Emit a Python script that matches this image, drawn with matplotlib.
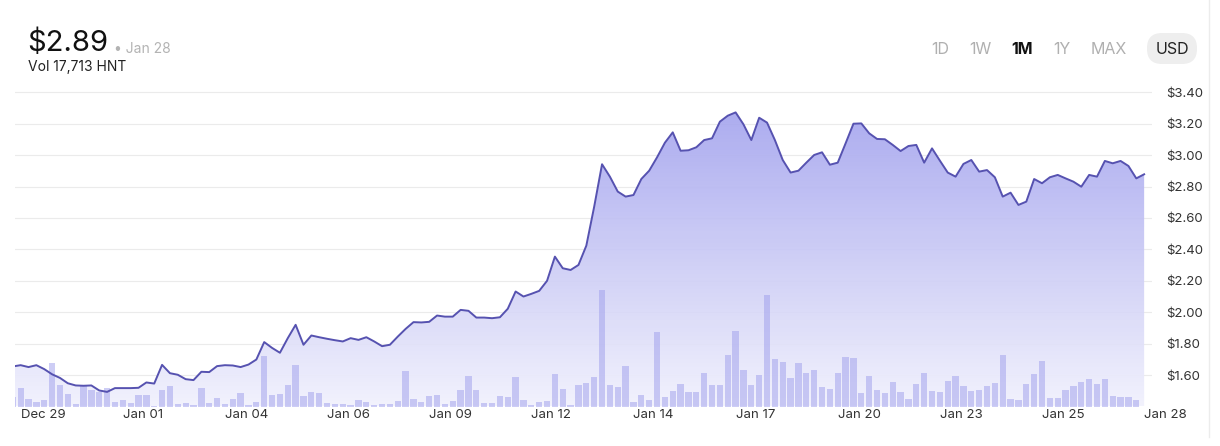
import matplotlib
matplotlib.use('Agg')
import matplotlib.pyplot as plt
import numpy as np
from matplotlib.patches import Polygon, FancyBboxPatch
from matplotlib.lines import Line2D
from matplotlib.colors import LinearSegmentedColormap
from matplotlib.transforms import IdentityTransform

# price (USD), one point per ~5h, Dec 28 -> Jan 28
price = [1.655, 1.663, 1.651, 1.663, 1.638, 1.605, 1.582, 1.548, 1.534, 1.532,
         1.534, 1.502, 1.493, 1.517, 1.517, 1.517, 1.519, 1.553, 1.546, 1.665,
         1.612, 1.602, 1.574, 1.568, 1.621, 1.619, 1.657, 1.663, 1.661, 1.651,
         1.667, 1.699, 1.810, 1.773, 1.742, 1.835, 1.920, 1.793, 1.852, 1.841,
         1.831, 1.822, 1.814, 1.835, 1.824, 1.841, 1.814, 1.784, 1.793, 1.845,
         1.894, 1.937, 1.935, 1.939, 1.979, 1.972, 1.972, 2.015, 2.009, 1.966,
         1.966, 1.962, 1.968, 2.022, 2.132, 2.100, 2.117, 2.136, 2.200, 2.354,
         2.280, 2.269, 2.301, 2.424, 2.672, 2.942, 2.863, 2.768, 2.736, 2.746,
         2.848, 2.901, 2.986, 3.079, 3.145, 3.028, 3.031, 3.050, 3.096, 3.107,
         3.213, 3.251, 3.272, 3.196, 3.096, 3.238, 3.207, 3.096, 2.969, 2.889,
         2.901, 2.952, 3.001, 3.018, 2.939, 2.952, 3.075, 3.200, 3.202, 3.139,
         3.103, 3.101, 3.065, 3.026, 3.058, 3.065, 2.952, 3.043, 2.965, 2.889,
         2.863, 2.944, 2.969, 2.895, 2.905, 2.859, 2.736, 2.761, 2.683, 2.704,
         2.848, 2.821, 2.859, 2.874, 2.852, 2.831, 2.799, 2.874, 2.863, 2.963,
         2.948, 2.963, 2.931, 2.852, 2.878]

# volume (relative units)
volume = [10, 18.3, 7.7, 5, 7, 44, 22, 12.3, 2.3, 22,
          16.7, 15, 18.7, 5, 7, 3.3, 12, 11.3, 1, 16.7,
          20.7, 2.3, 4, 2, 18.7, 3.7, 8.3, 2.7, 7.7, 13.7,
          2, 5, 50.3, 11.7, 13, 21.3, 42, 10.7, 15, 13.7,
          3.3, 2.7, 3, 2, 7, 5, 2, 2.7, 2.7, 5.7,
          36, 8, 4.7, 11, 11.7, 3, 6, 16.7, 30.3, 16.7,
          4, 3.3, 10.7, 10, 29.3, 6.7, 2, 4.7, 5.3, 33,
          18, 1.7, 21.3, 24, 30, 117, 22, 19.3, 40.3, 4.3,
          11.7, 6.7, 75, 10, 15.7, 22.7, 15, 15, 34, 21.3,
          22, 51.7, 75.3, 36.3, 21.7, 31.7, 111.3, 48, 44.3, 29,
          43.7, 33.7, 37, 20, 17.7, 33.7, 50, 48.7, 13.3, 30.7,
          16.7, 13.7, 25, 14.7, 7.7, 23, 33.7, 15.3, 15, 25.3,
          30.3, 21, 16, 17, 21, 23.7, 52, 7.3, 6.7, 22.7,
          32.7, 45.7, 8.3, 8.3, 17, 20.7, 24.3, 28, 22.3, 28,
          10.7, 10, 9.7, 7]

date_labels = ['Dec 29', 'Jan 01', 'Jan 04', 'Jan 06', 'Jan 09', 'Jan 12',
               'Jan 14', 'Jan 17', 'Jan 20', 'Jan 23', 'Jan 25', 'Jan 28']
price_ticks = [1.60, 1.80, 2.00, 2.20, 2.40, 2.60, 2.80, 3.00, 3.20, 3.40]
ranges = ['1D', '1W', '1M', '1Y', 'MAX']

plt.rcParams['font.family'] = ['Inter', 'DejaVu Sans']

W, H = 1220, 446
fig = plt.figure(figsize=(W / 100, H / 100), dpi=100)
ax = fig.add_axes([15 / W, 1 - 406.5 / H, (1152 - 15) / W, (406.5 - 86) / H])

ymin, ymax = 1.40, 3.44
x = np.arange(len(price))

# gradient area under the price line
cmap = LinearSegmentedColormap.from_list('fill', ['#f1f1fd', '#a4a4ee'])
grad = np.linspace(0, 1, 256).reshape(-1, 1)
img = ax.imshow(grad, cmap=cmap, aspect='auto', origin='lower',
                extent=[x[0], x[-1], ymin, 3.30], zorder=1, alpha=0.92)
poly = Polygon(np.column_stack([np.r_[x[0], x, x[-1]], np.r_[ymin, price, ymin]]),
               closed=True, facecolor='none', edgecolor='none')
ax.add_patch(poly)
img.set_clip_path(poly)

# volume bars share the bottom of the price axis
vol_scale = (ymax - ymin) / 320.5
xv = np.arange(len(volume))
ax.bar(xv, np.array(volume) * vol_scale, bottom=ymin, width=0.8,
       color='#9d9dec', alpha=0.5, zorder=2, linewidth=0)

ax.plot(x, price, color='#5652b0', lw=1.4, zorder=3, solid_joinstyle='round')

ax.set_xlim(0.28, 145.0)
ax.set_ylim(ymin, ymax)

ax.set_yticks(price_ticks)
ax.set_yticklabels(['${:.2f}'.format(p) for p in price_ticks])
ax.yaxis.tick_right()
ax.tick_params(axis='y', length=0, pad=10, labelsize=9.5, labelcolor='#333333')

ax.set_xticks(np.arange(1, len(price), 13))
ax.set_xticklabels(date_labels, ha='left')
ax.tick_params(axis='x', length=0, pad=2, labelsize=9.5, labelcolor='#333333')

ax.grid(axis='y', color='#ebebeb', lw=0.8)
ax.set_axisbelow(True)
for s in ax.spines.values():
    s.set_visible(False)

# header
fig.text(27 / W, 1 - 51 / H, '$2.89', fontsize=21, color='#111111', va='baseline')
fig.text(114 / W, 1 - 53 / H, '• Jan 28', fontsize=10, color='#b3b3b3', va='baseline')
fig.text(28 / W, 1 - 71 / H, 'Vol 17,713 HNT', fontsize=10, color='#222222', va='baseline')

# range selector
for label, cx in zip(ranges, [940, 980, 1022, 1062, 1109]):
    bold = label == '1M'
    fig.text(cx / W, 1 - 49 / H, label, fontsize=11.5, ha='center', va='center',
             color='#111111' if bold else '#b0b0b0', fontweight='bold' if bold else 'normal')

pill = FancyBboxPatch((1147, H - 64), 50, 31, boxstyle='round,pad=0,rounding_size=15',
                      transform=IdentityTransform(), facecolor='#eeeeee', edgecolor='none')
fig.add_artist(pill)
fig.text(1172 / W, 1 - 49 / H, 'USD', fontsize=11.5, ha='center', va='center', color='#222222')

fig.add_artist(Line2D([1209 / W, 1209 / W], [1 - 437 / H, 1], color='#ececec', lw=1))

fig.savefig('out.png', dpi=100)
